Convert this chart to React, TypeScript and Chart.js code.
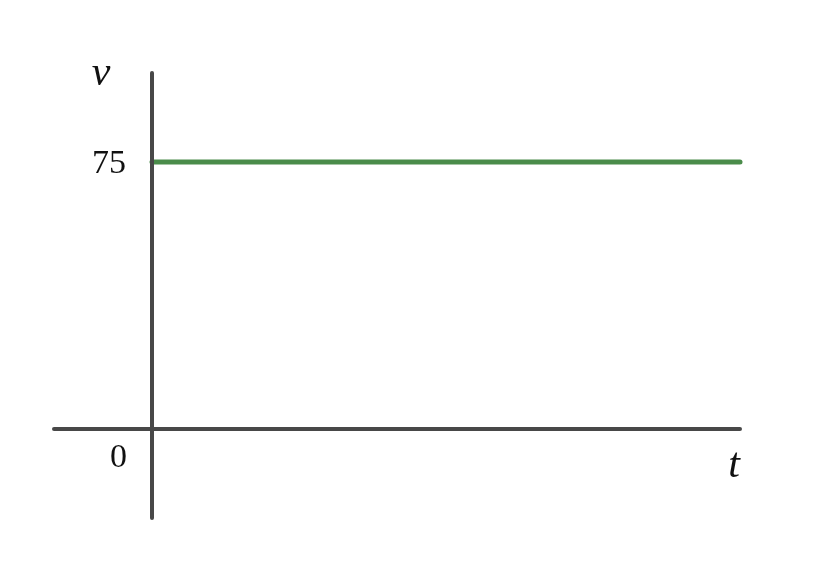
import React, { useEffect, useRef } from "react";
import { Chart, registerables } from "chart.js";

Chart.register(...registerables);

// axis extents (t from -1 to 6, v from -25 to 100)
const tRange = [-1, 6];
const vRange = [-25, 100];

// the constant velocity line
const lineT = [0, 6];
const lineV = [75, 75];

const yTicks = [75];
const yTickLabels = ["75"];
const originLabel = "0";
const xAxisLabel = "t";
const yAxisLabel = "v";

const AXIS_COLOR = "#484848";
const LINE_COLOR = "#4a8c4a";

const labelsPlugin = {
  id: "mathLabels",
  afterDraw(chart: Chart) {
    const { ctx } = chart;
    const xs = chart.scales.x;
    const ys = chart.scales.y;
    const x0 = xs.getPixelForValue(0);
    const y0 = ys.getPixelForValue(0);
    ctx.save();
    ctx.fillStyle = "#111";
    ctx.textBaseline = "middle";

    ctx.font = "34px 'Liberation Serif', serif";
    ctx.textAlign = "right";
    yTicks.forEach((v, i) => {
      ctx.fillText(yTickLabels[i], x0 - 26, ys.getPixelForValue(v) + 2);
    });
    ctx.fillText(originLabel, x0 - 25, y0 + 29);

    ctx.font = "italic 42px 'Liberation Serif', serif";
    ctx.textAlign = "center";
    ctx.textBaseline = "alphabetic";
    ctx.fillText(yAxisLabel, x0 - 51, ys.getPixelForValue(vRange[1]) + 12);
    ctx.fillText(xAxisLabel, xs.getPixelForValue(tRange[1]) - 6, y0 + 48);
    ctx.restore();
  },
};

const App: React.FC = () => {
  const chartRef = useRef<HTMLCanvasElement>(null);

  useEffect(() => {
    const canvas = chartRef.current!;
    const chart = new Chart(canvas, {
      type: "line",
      data: {
        datasets: [
          {
            data: [
              { x: tRange[0], y: 0 },
              { x: tRange[1], y: 0 },
            ],
            borderColor: AXIS_COLOR,
            borderWidth: 4,
            borderCapStyle: "round",
            pointRadius: 0,
          },
          {
            data: [
              { x: 0, y: vRange[0] },
              { x: 0, y: vRange[1] },
            ],
            borderColor: AXIS_COLOR,
            borderWidth: 4,
            borderCapStyle: "round",
            pointRadius: 0,
          },
          {
            data: lineT.map((t, i) => ({ x: t, y: lineV[i] })),
            borderColor: LINE_COLOR,
            borderWidth: 5,
            borderCapStyle: "round",
            pointRadius: 0,
          },
        ],
      },
      options: {
        animation: false,
        responsive: false,
        devicePixelRatio: 1,
        layout: { padding: { left: 54, right: 100, top: 73, bottom: 43 } },
        scales: {
          x: { type: "linear", min: tRange[0], max: tRange[1], display: false },
          y: { type: "linear", min: vRange[0], max: vRange[1], display: false },
        },
        datasets: { line: { clip: false } as any },
        plugins: {
          legend: { display: false },
          tooltip: { enabled: false },
        },
      },
      plugins: [labelsPlugin],
    });

    return () => {
      chart.destroy();
    };
  }, []);

  return (
    <div style={{ position: "absolute", left: 0, top: 0, width: 840, height: 561, background: "#fff" }}>
      <canvas ref={chartRef} width={840} height={561}></canvas>
    </div>
  );
};

export default App;
